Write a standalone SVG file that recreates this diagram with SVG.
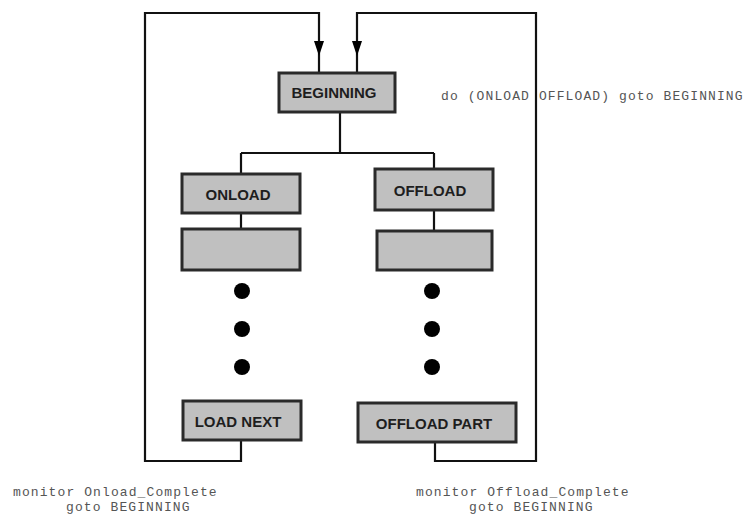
<svg xmlns="http://www.w3.org/2000/svg" width="743" height="514" viewBox="0 0 743 514">
  <style>
    .box { fill: #c0c0c0; stroke: #2a2a2a; stroke-width: 3; }
    .lbl { font-family: "Liberation Sans", Arial, sans-serif; font-weight: bold; font-size: 15px; fill: #1e1e1e; text-anchor: middle; }
    .wire { fill: none; stroke: #111; stroke-width: 2.2; }
    .note { font-family: "Liberation Mono", "Courier New", monospace; font-size: 13px; letter-spacing: 1.1px; fill: #555; }
    .dot { fill: #000; }
  </style>
  <defs>
    <polygon id="head" points="-5,-15 5,-15 0,0" fill="#000"/>
  </defs>
  <rect width="743" height="514" fill="#fff"/>

  <g id="connectors">
    <path class="wire" d="M340,112 V153 M241,153 H434 M241,153 V174 M434,153 V169"/>
    <path class="wire" d="M241,213 V229 M434,210 V231"/>
    <!-- loop back from LOAD NEXT -->
    <path class="wire" d="M241,440 V461 H145 V13 H319 V73"/>
    <!-- loop back from OFFLOAD PART -->
    <path class="wire" d="M435,442 V461 H536 V13 H357 V73"/>
    <use href="#head" x="319" y="56"/>
    <use href="#head" x="357" y="56"/>
  </g>

  <g id="beginning">
    <rect class="box" x="279" y="73" width="116" height="39"/>
    <text class="lbl" x="334" y="98">BEGINNING</text>
  </g>
  <g id="onload">
    <rect class="box" x="182" y="174" width="118" height="39"/>
    <text class="lbl" x="238" y="200">ONLOAD</text>
  </g>
  <g id="offload">
    <rect class="box" x="375" y="169" width="118" height="41"/>
    <text class="lbl" x="430" y="196">OFFLOAD</text>
  </g>
  <g id="onload-step">
    <rect class="box" x="182" y="229" width="118" height="41"/>
  </g>
  <g id="offload-step">
    <rect class="box" x="377" y="231" width="115" height="39"/>
  </g>
  <g id="onload-dots">
    <circle class="dot" cx="242" cy="291" r="8"/>
    <circle class="dot" cx="242" cy="329" r="8"/>
    <circle class="dot" cx="242" cy="367" r="8"/>
  </g>
  <g id="offload-dots">
    <circle class="dot" cx="432" cy="291" r="8"/>
    <circle class="dot" cx="432" cy="329" r="8"/>
    <circle class="dot" cx="432" cy="367" r="8"/>
  </g>
  <g id="load-next">
    <rect class="box" x="183" y="401" width="118" height="39"/>
    <text class="lbl" x="238" y="427">LOAD NEXT</text>
  </g>
  <g id="offload-part">
    <rect class="box" x="358" y="403" width="158" height="39"/>
    <text class="lbl" x="434" y="429">OFFLOAD PART</text>
  </g>

  <g id="notes">
    <text class="note" x="441" y="100">do (ONLOAD OFFLOAD) goto BEGINNING</text>
    <text class="note" x="13" y="496">monitor Onload_Complete</text>
    <text class="note" x="66" y="511">goto BEGINNING</text>
    <text class="note" x="416" y="496">monitor Offload_Complete</text>
    <text class="note" x="469" y="511">goto BEGINNING</text>
  </g>
</svg>
